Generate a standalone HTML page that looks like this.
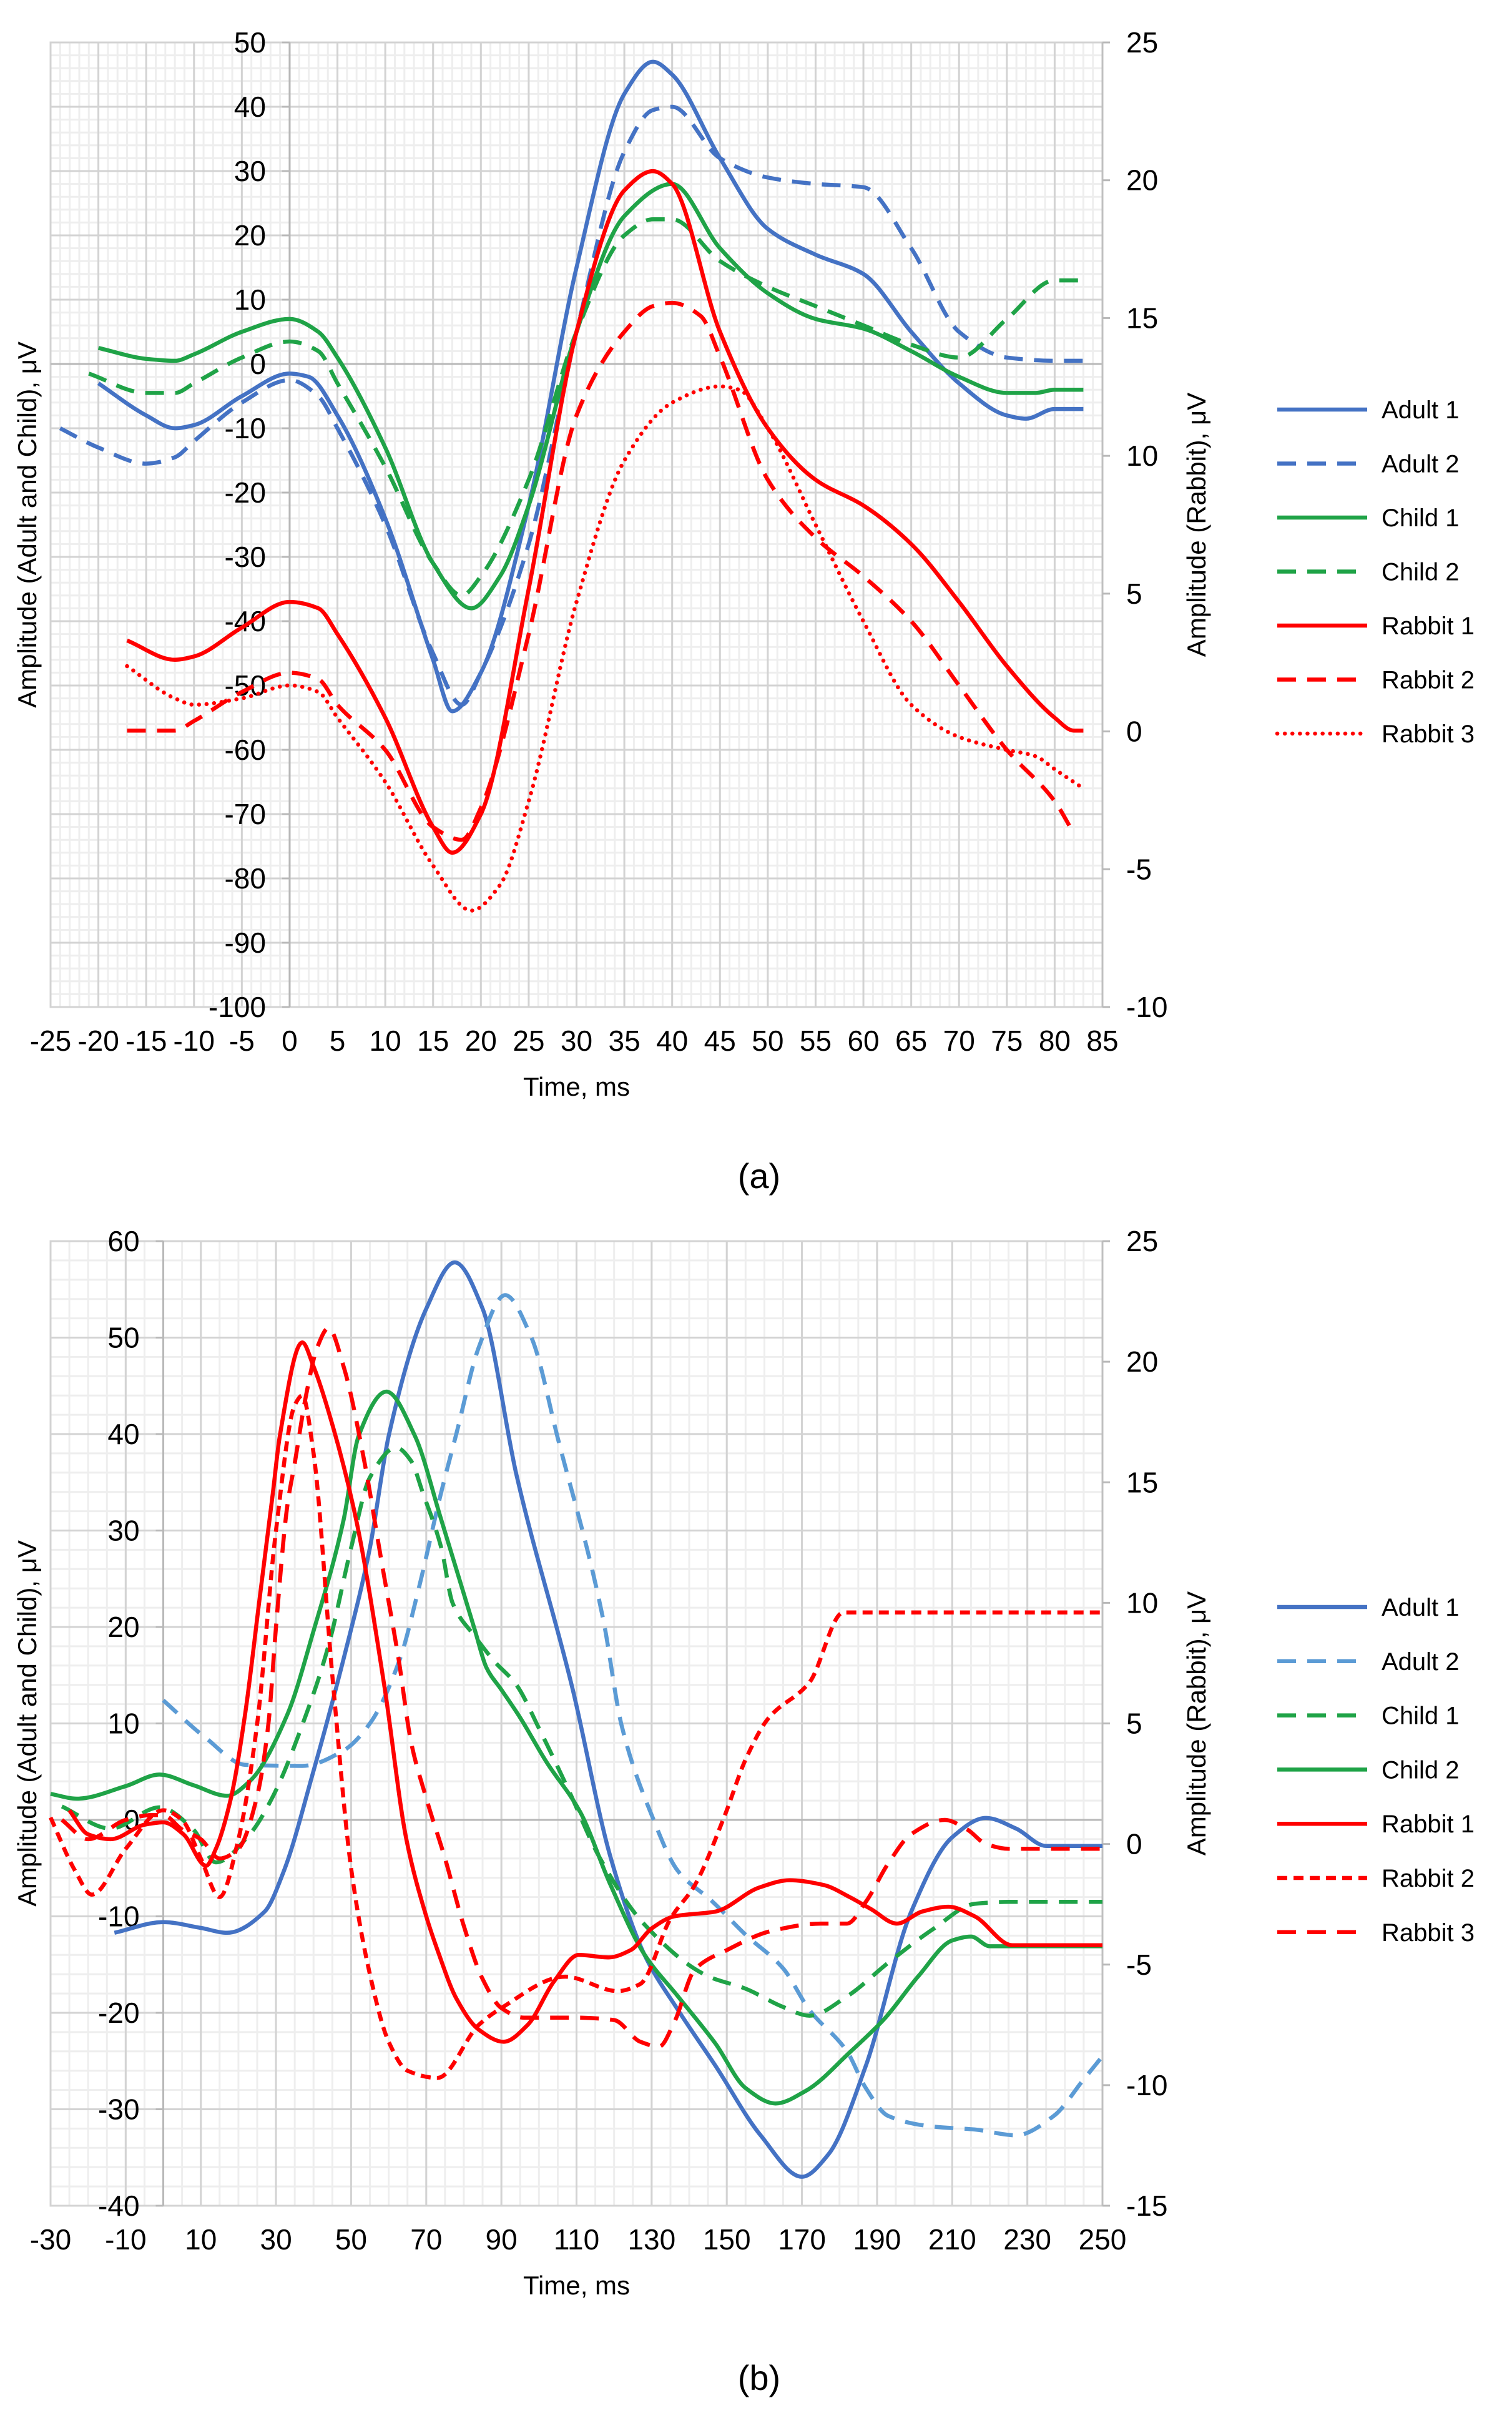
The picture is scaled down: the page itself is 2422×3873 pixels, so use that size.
<!DOCTYPE html>
<html><head><meta charset="utf-8">
<style>
html,body{margin:0;padding:0;background:#fff;}
svg{display:block;font-family:"Liberation Sans",Arial,sans-serif;}
</style></head>
<body>
<svg id="root" width="2422" height="3873" viewBox="0 0 2422 3873" xmlns="http://www.w3.org/2000/svg">
<text x="1216" y="1903" font-size="56" text-anchor="middle">(a)</text>
<text x="1216" y="3828" font-size="56" text-anchor="middle">(b)</text>
</svg>
<script>
// ---------- Panel (a) data ----------
const aTicksX = [-25,-20,-15,-10,-5,0,5,10,15,20,25,30,35,40,45,50,55,60,65,70,75,80,85];
const aTicksL = [50,40,30,20,10,0,-10,-20,-30,-40,-50,-60,-70,-80,-90,-100];
const aTicksR = [25,20,15,10,5,0,-5,-10];
const aAdult1X = [-20,-15,-12,-10,-5,0,2,5,10,15,17,20,25,30,35,38,40,45,50,55,60,65,70,75,77,80,83];
const aAdult1Y = [-3,-8,-10,-9.5,-5,-1.5,-2,-8,-24,-46,-54,-48,-22,15,42,47,45,32,21,17,14,5,-3,-8,-8.5,-7,-7];
const aAdult2X = [-24,-20,-15,-12,-10,-5,0,3,5,10,15,18,20,25,30,35,38,40,45,50,55,60,65,70,75,80,83];
const aAdult2Y = [-10,-13,-15.5,-14.5,-12,-6,-2.5,-5,-10,-25,-45,-53,-48,-28,5,33,39.5,40,32,29,28,27.5,18,5,1,0.5,0.5];
const aChild1X = [-20,-15,-12,-10,-5,0,3,5,10,15,19,22,25,30,35,40,45,50,55,60,65,70,75,78,80,83];
const aChild1Y = [2.5,0.8,0.5,1.5,5,7,5,1,-13,-31,-38,-33,-22,5,23,28,18,11,7,5.5,2,-2,-4.5,-4.5,-4,-4];
const aChild2X = [-21,-15,-12,-10,-5,0,3,5,10,15,18,20,25,30,35,38,40,45,50,55,60,65,70,75,80,83];
const aChild2Y = [-1.5,-4.5,-4.5,-3,1,3.5,2,-3,-16,-31,-36,-33,-18,5,20,22.5,22.5,16,12,9,6,3,1,7,13,13];
const aRabbit1X = [-17,-12,-10,-5,0,3,5,10,15,17,20,25,30,35,38,40,45,50,55,60,65,70,75,80,82,83];
const aRabbit1Y = [3.3,2.6,2.72,3.77,4.7,4.47,3.53,0.5,-3.47,-4.4,-3.0,5.17,14.5,19.63,20.33,19.87,14.5,11.0,9.13,8.2,6.8,4.7,2.37,0.5,0.03,0.03];
const aRabbit2X = [-17,-12,-10,-5,0,3,5,10,15,18,20,25,30,35,38,40,43,45,50,55,60,65,70,75,80,82];
const aRabbit2Y = [0.03,0.03,0.38,1.43,2.13,1.9,0.97,-0.67,-3.47,-3.93,-2.77,3.53,11.47,14.5,15.43,15.55,15.07,13.6,9.13,7.03,5.63,4.0,1.67,-0.67,-2.53,-3.7];
const aRabbit3X = [-17,-12,-10,-5,0,3,5,10,15,19,22,25,30,35,40,45,47,50,55,60,65,70,75,78,80,83];
const aRabbit3Y = [2.37,1.2,0.97,1.2,1.67,1.43,0.5,-1.83,-4.87,-6.5,-5.57,-2.53,4.7,9.83,11.93,12.52,12.4,11.0,7.5,4.0,0.97,-0.2,-0.67,-0.9,-1.37,-2.07];

// ---------- Panel (b) data ----------
const bTicksX = [-30,-10,10,30,50,70,90,110,130,150,170,190,210,230,250];
const bTicksL = [60,50,40,30,20,10,0,-10,-20,-30,-40];
const bTicksR = [25,20,15,10,5,0,-5,-10,-15];
const bAdult1X = [-13,0,10,17,27,32,40,48,55,60,70,77.6,85,94,109,119,128,137,147,159,170,177,187,199,210,219,227,235,250];
const bAdult1Y = [-11.7,-10.6,-11.2,-11.7,-9.5,-5.4,5.1,16.7,28.2,39.8,53,57.8,53,35.8,13.5,-3.8,-13.9,-19.7,-25.5,-32.7,-37,-34.7,-25.5,-9.6,-1.8,0.2,-0.9,-2.7,-2.7];
const bAdult2X = [0,11,22,37,48,55,63,68,74,78,84,91,98,105,117,122,130,137,146,155,165,172,182,187,193,205,216,227,237,245,250];
const bAdult2Y = [12.4,8.6,5.7,5.6,7.2,10,16.7,24,34,40,49,54.4,50,39.6,21,9.8,0.5,-5.3,-8.4,-11.9,-15.4,-19.7,-24,-27.8,-30.7,-31.8,-32.1,-32.7,-30.7,-26.9,-24.5];
const bChild1X = [-27,-14,-1,8,14,23,29,38,44,50,55,62,66,69,74,77,83,88,94,100,108,116,128,145,155,165,172,182,193,205,216,225,250];
const bChild1Y = [1.4,-0.9,1.3,-1,-4.4,-1.5,2.3,10.9,18.1,28.2,35.5,38.6,37.2,34,28.2,22.5,19,16.5,14,9.5,3,-3.8,-10.8,-16.2,-17.5,-19.4,-20.3,-18.3,-14.8,-11.3,-8.7,-8.5,-8.5];
const bChild2X = [-30,-23,-10,-1,8,17,23,33,40,48,52,59.4,67,74,83,86,90,95,102,111,119,128,137,147,155,163,171,183,192,201,210,215,220,250];
const bChild2Y = [2.7,2.2,3.5,4.7,3.6,2.5,4,10.9,19.6,31.1,39.8,44.4,39.8,31.1,19.6,15.8,13.5,10.6,6,0.8,-6.7,-13.9,-18.3,-23.2,-27.8,-29.4,-28.1,-24,-20.6,-16.2,-12.5,-12.1,-13.1,-13.1];
const bRabbit1X = [-25,-20,-14,-5,0,5.4,11.4,14,18,21.8,25.5,29.2,31,37,40,45,51.4,58.9,64.7,70,73,78,84,90.6,97,104,110.6,118.6,124.4,130,136,147,158.7,166.7,175.8,182.7,188.4,195.3,202,209,216,226,250];
const bRabbit1Y = [1.4,0.4,0.2,0.8,0.9,0.4,-0.9,-0.2,1.9,5.4,10,14.6,16.9,20.8,19.8,17.4,13.4,6.5,0.2,-3,-4.4,-6.4,-7.7,-8.2,-7.5,-5.7,-4.6,-4.7,-4.4,-3.5,-3,-2.8,-1.8,-1.5,-1.7,-2.2,-2.7,-3.3,-2.8,-2.6,-3,-4.2,-4.2];
const bRabbit2X = [-30,-23.5,-19,-10,0,5,10,15,20,25,30,35,37,40,45,50,55,60,65,73,84,90,107,121,127,135,141.5,149.5,155,161,172,181,250];
const bRabbit2Y = [1.1,-1.1,-2.1,-0.2,1.4,1,-0.6,-2.2,0.2,5,13,18.2,18.6,16.2,7,-1,-5.4,-8.2,-9.4,-9.7,-7.5,-6.8,-5.5,-6.1,-5.8,-3.1,-1.7,1.2,3.5,5.2,6.7,9.6,9.6];
const bRabbit3X = [-27,-20,-10,-3,0,5,10,15,20,25,28,30,33,35,38,41,44,48,53.6,58,62.6,66,70,75,80,85,90,96,110,120,127,132,136,141.5,150,162,175,182,187,193,199,208,214,219,225,250];
const bRabbit3Y = [1,0.2,1,1.2,1.2,0.6,0.2,-0.6,-0.2,2,5,9,14,15.8,18.6,20.6,21.4,19.8,15.8,11.8,7.7,4.2,1.9,-0.6,-3.4,-5.6,-6.8,-7.2,-7.2,-7.3,-8.2,-8.4,-7.4,-5.2,-4.4,-3.6,-3.3,-3.3,-2.4,-0.8,0.4,1,0.6,0,-0.2,-0.2];

const NS = "http://www.w3.org/2000/svg";
const root = document.getElementById('root');
function mk(tag, attrs, parent){
  const e = document.createElementNS(NS, tag);
  for (const k in attrs) e.setAttribute(k, attrs[k]);
  (parent||root).appendChild(e);
  return e;
}
// monotone cubic (Fritsch-Carlson) path through points
function smoothPath(pts){
  const n = pts.length;
  if (n < 2) return '';
  const h = [], d = [];
  for (let i = 0; i < n-1; i++){
    h.push(Math.max(1e-6, pts[i+1][0]-pts[i][0]));
    d.push((pts[i+1][1]-pts[i][1]) / h[i]);
  }
  const m = new Array(n);
  m[0] = d[0]; m[n-1] = d[n-2];
  for (let i = 1; i < n-1; i++){
    if (d[i-1]*d[i] <= 0) m[i] = 0;
    else {
      const w1 = 2*h[i]+h[i-1], w2 = h[i]+2*h[i-1];
      m[i] = (w1+w2) / (w1/d[i-1] + w2/d[i]);
    }
  }
  let s = 'M' + pts[0][0].toFixed(1) + ',' + pts[0][1].toFixed(1);
  for (let i = 0; i < n-1; i++){
    const hh = h[i]/3;
    const c1x = pts[i][0]+hh, c1y = pts[i][1]+m[i]*hh;
    const c2x = pts[i+1][0]-hh, c2y = pts[i+1][1]-m[i+1]*hh;
    s += ' C' + c1x.toFixed(1)+','+c1y.toFixed(1)+' '+c2x.toFixed(1)+','+c2y.toFixed(1)+' '+pts[i+1][0].toFixed(1)+','+pts[i+1][1].toFixed(1);
  }
  return s;
}

function buildChart(cfg){
  const g = mk('g', {});
  
  
  const sx = v => cfg.px0 + (v - cfg.xmin) / (cfg.xmax - cfg.xmin) * (cfg.px1 - cfg.px0);
  const syL = v => cfg.py0 + (cfg.lmax - v) / (cfg.lmax - cfg.lmin) * (cfg.py1 - cfg.py0);
  const syR = v => cfg.py0 + (cfg.rmax - v) / (cfg.rmax - cfg.rmin) * (cfg.py1 - cfg.py0);
  const grid = mk('g', {}, g);
  
  
  for (let v = cfg.xmin; v <= cfg.xmax + 1e-6; v += cfg.xminor){
    mk('line', {x1:sx(v), x2:sx(v), y1:cfg.py0, y2:cfg.py1, stroke:'#eeeeee', 'stroke-width':3}, grid);
  }
  for (let v = cfg.lmin; v <= cfg.lmax + 1e-6; v += cfg.lminor){
    mk('line', {x1:cfg.px0, x2:cfg.px1, y1:syL(v), y2:syL(v), stroke:'#eeeeee', 'stroke-width':3}, grid);
  }
  for (const v of cfg.majorX){
    mk('line', {x1:sx(v), x2:sx(v), y1:cfg.py0, y2:cfg.py1, stroke:'#d3d3d3', 'stroke-width':3}, grid);
  }
  for (const v of cfg.ticksL){
    mk('line', {x1:cfg.px0, x2:cfg.px1, y1:syL(v), y2:syL(v), stroke:'#d3d3d3', 'stroke-width':3}, grid);
  }
  mk('rect', {x:cfg.px0, y:cfg.py0, width:cfg.px1-cfg.px0, height:cfg.py1-cfg.py0, fill:'none', stroke:'#d3d3d3', 'stroke-width':3}, grid);
  mk('line', {x1:cfg.px0, x2:cfg.px1, y1:syL(0), y2:syL(0), stroke:'#b8b8b8', 'stroke-width':3}, g);
  mk('line', {x1:sx(0), x2:sx(0), y1:cfg.py0, y2:cfg.py1, stroke:'#b8b8b8', 'stroke-width':3}, g);
  mk('line', {x1:cfg.px1, x2:cfg.px1, y1:cfg.py0, y2:cfg.py1, stroke:'#c0c0c0', 'stroke-width':3}, g);
  for (const v of cfg.ticksL){
    mk('line', {x1:sx(0)-12, x2:sx(0), y1:syL(v), y2:syL(v), stroke:'#b8b8b8', 'stroke-width':3}, g);
    const t = mk('text', {x:sx(0)-38, y:syL(v)+16, 'font-size':46, 'text-anchor':'end', fill:'#000'}, g);
    t.textContent = v;
    
    
  }
  for (const v of cfg.ticksR){
    mk('line', {x1:cfg.px1, x2:cfg.px1+12, y1:syR(v), y2:syR(v), stroke:'#b8b8b8', 'stroke-width':3}, g);
    const t = mk('text', {x:cfg.px1+38, y:syR(v)+16, 'font-size':46, 'text-anchor':'start', fill:'#000'}, g);
    t.textContent = v;
    
    
  }
  for (const v of cfg.ticksX){
    const t = mk('text', {x:sx(v), y:cfg.xLabelY, 'font-size':46, 'text-anchor':'middle', fill:'#000'}, g);
    t.textContent = v;
    
    
  }
  const xt = mk('text', {x:(cfg.px0+cfg.px1)/2, y:cfg.xTitleY, 'font-size':42, 'text-anchor':'middle'}, g);
  xt.textContent = 'Time, ms';
  
  
  const cy = (cfg.py0+cfg.py1)/2;
  const lt = mk('text', {x:0, y:0, 'font-size':42, 'text-anchor':'middle', transform:'translate(58,'+cy+') rotate(-90)'}, g);
  lt.textContent = 'Amplitude (Adult and Child), μV';
  
  
  const rt = mk('text', {x:0, y:0, 'font-size':42, 'text-anchor':'middle', transform:'translate(1931,'+cy+') rotate(-90)'}, g);
  rt.textContent = 'Amplitude (Rabbit), μV';
  
  
  cfg.series.forEach((s, i) => {
    const sy = s.right ? syR : syL;
    const pts = s.xs.map((x, k) => [sx(x), sy(s.ys[k])]);
    const p = mk('path', {d:smoothPath(pts), fill:'none', stroke:s.color, 'stroke-width':6.5, 'stroke-dasharray':s.dash, 'stroke-linecap':s.cap||'butt', 'stroke-linejoin':'round'}, g);
    
    
    const ly = cfg.legendY + i * cfg.legendStep;
    const le = mk('g', {}, g);
    
    
    mk('line', {x1:2046, x2:2190, y1:ly, y2:ly, stroke:s.color, 'stroke-width':6.5, 'stroke-dasharray':s.dash, 'stroke-linecap':s.cap||'butt'}, le);
    const lt2 = mk('text', {x:2213, y:ly+14, 'font-size':40}, le);
    lt2.textContent = s.label;
  });
}

const BLUE = '#4472C4', LBLUE = '#5B9BD5', GREEN = '#1FA347', RED = '#FF0000';
buildChart({
  name:'chart-a', px0:81, px1:1766, py0:68, py1:1613,
  xmin:-25, xmax:85, lmin:-100, lmax:50, rmin:-10, rmax:25,
  xminor:1, lminor:2, majorX:aTicksX, ticksX:aTicksX, ticksL:aTicksL, ticksR:aTicksR,
  xLabelY:1683, xTitleY:1755, legendY:656, legendStep:86.5,
  series:[
    {label:'Adult 1', xs:aAdult1X, ys:aAdult1Y, color:BLUE, dash:'none'},
    {label:'Adult 2', xs:aAdult2X, ys:aAdult2Y, color:BLUE, dash:'30 18'},
    {label:'Child 1', xs:aChild1X, ys:aChild1Y, color:GREEN, dash:'none'},
    {label:'Child 2', xs:aChild2X, ys:aChild2Y, color:GREEN, dash:'30 18'},
    {label:'Rabbit 1', xs:aRabbit1X, ys:aRabbit1Y, color:RED, dash:'none', right:true},
    {label:'Rabbit 2', xs:aRabbit2X, ys:aRabbit2Y, color:RED, dash:'30 18', right:true},
    {label:'Rabbit 3', xs:aRabbit3X, ys:aRabbit3Y, color:RED, dash:'0.1 12', cap:'round', right:true}
  ]
});
buildChart({
  name:'chart-b', px0:81, px1:1766, py0:1988, py1:3533,
  xmin:-30, xmax:250, lmin:-40, lmax:60, rmin:-15, rmax:25,
  xminor:5, lminor:2, majorX:bTicksX, ticksX:bTicksX, ticksL:bTicksL, ticksR:bTicksR,
  xLabelY:3603, xTitleY:3675, legendY:2574, legendStep:86.8,
  series:[
    {label:'Adult 1', xs:bAdult1X, ys:bAdult1Y, color:BLUE, dash:'none'},
    {label:'Adult 2', xs:bAdult2X, ys:bAdult2Y, color:LBLUE, dash:'30 18'},
    {label:'Child 1', xs:bChild1X, ys:bChild1Y, color:GREEN, dash:'30 18'},
    {label:'Child 2', xs:bChild2X, ys:bChild2Y, color:GREEN, dash:'none'},
    {label:'Rabbit 1', xs:bRabbit1X, ys:bRabbit1Y, color:RED, dash:'none', right:true},
    {label:'Rabbit 2', xs:bRabbit2X, ys:bRabbit2Y, color:RED, dash:'16 10', right:true},
    {label:'Rabbit 3', xs:bRabbit3X, ys:bRabbit3Y, color:RED, dash:'30 18', right:true}
  ]
});
</script>
</body></html>
